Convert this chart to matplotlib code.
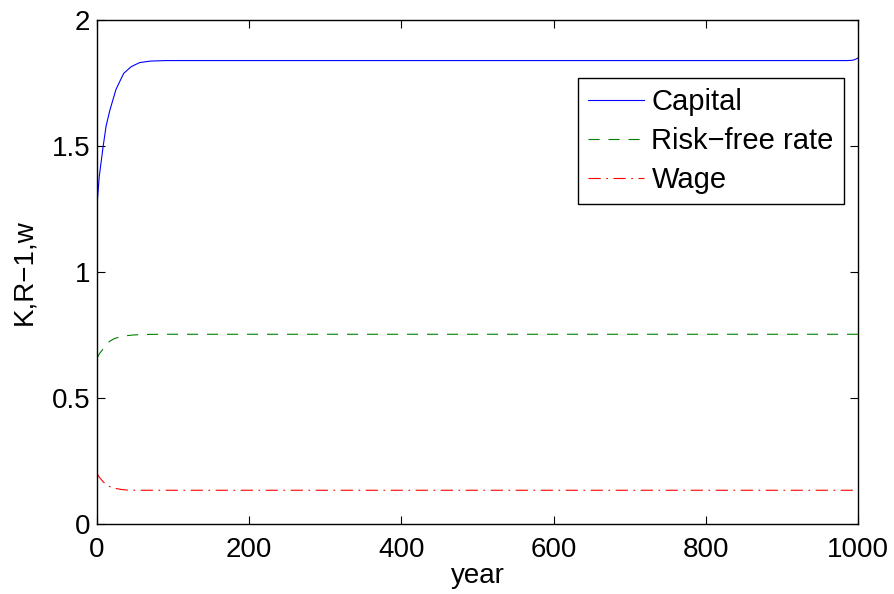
import matplotlib

matplotlib.use("Agg")
import matplotlib.pyplot as plt

plt.rcParams["font.family"] = ["Liberation Sans", "DejaVu Sans"]

# values
cap_year = [0, 3, 8, 12, 17, 25, 35, 45, 56, 70, 90, 120, 200, 400, 600, 800, 985, 992, 996, 1000]
capital = [1.266, 1.38, 1.497, 1.58, 1.643, 1.725, 1.788, 1.815, 1.831, 1.837, 1.839, 1.839,
           1.839, 1.839, 1.839, 1.839, 1.839, 1.840, 1.843, 1.849]

rf_year = [0, 3, 7.5, 12, 17, 23, 30, 38, 47, 60, 80, 200, 500, 1000]
riskfree = [0.657, 0.675, 0.693, 0.712, 0.726, 0.736, 0.743, 0.747, 0.750, 0.752, 0.753,
            0.753, 0.753, 0.753]

w_year = [0, 3, 8, 12, 17, 25, 32, 39, 50, 70, 200, 500, 1000]
wage = [0.201, 0.186, 0.168, 0.157, 0.148, 0.141, 0.137, 0.135, 0.134, 0.134, 0.134, 0.134, 0.134]

fig = plt.figure(figsize=(8.94, 5.94), dpi=100)
ax = fig.add_axes([0.1085, 0.1178, 0.8512, 0.8485])

ax.plot(cap_year, capital, color=(0, 0, 1), lw=0.8, label="Capital")
ax.plot(rf_year, riskfree, color=(0, 0.5, 0), lw=0.8, ls=(0, (10, 8)), label="Risk\u2212free rate")
ax.plot(w_year, wage, color=(1, 0, 0), lw=0.8, ls=(0, (11, 5, 1.5, 5)), label="Wage")

ax.set_xlim(0, 1000)
ax.set_ylim(0, 2)
ax.set_xticks([0, 200, 400, 600, 800, 1000])
ax.set_yticks([0, 0.5, 1, 1.5, 2])
ax.set_yticklabels(["0", "0.5", "1", "1.5", "2"])
ax.tick_params(direction="in", top=True, right=True, labelsize=20, length=6, width=0.8, pad=5)
ax.tick_params(axis="x", pad=9)
for s in ax.spines.values():
    s.set_linewidth(1.0)

ax.set_xlabel("year", fontsize=20, labelpad=0)
ax.set_ylabel("K,R\u22121,w", fontsize=20, labelpad=10)

leg = ax.legend(loc="upper right", bbox_to_anchor=(0.9816, 0.885), fontsize=21, fancybox=False,
                framealpha=1, edgecolor="black", handlelength=1.93, handletextpad=0.25,
                borderpad=0.35, labelspacing=0.37, borderaxespad=0)
leg.get_frame().set_linewidth(1.0)

fig.savefig("out.png", dpi=100)
